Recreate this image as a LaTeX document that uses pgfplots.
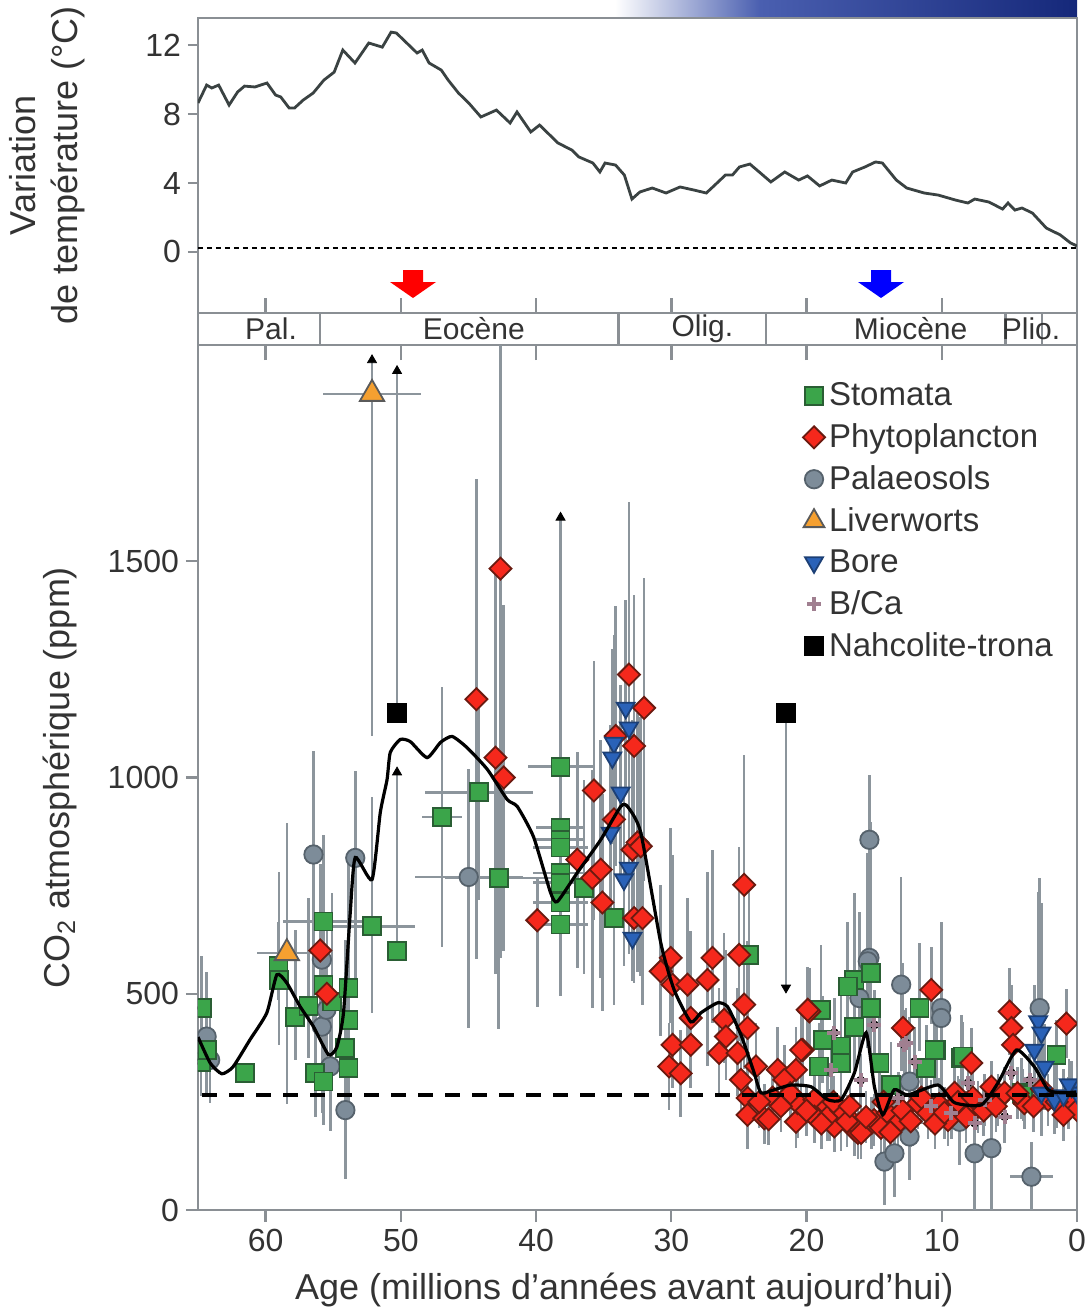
\documentclass[border=0pt]{standalone}
\usepackage{fontspec}
\setmainfont{Liberation Sans}
\usepackage{pgfplots}
\pgfplotsset{compat=1.18}
\usepackage{pgfplotstable}

\definecolor{axiscol}{HTML}{8A8F94}
\definecolor{textcol}{HTML}{333333}
\definecolor{errcol}{HTML}{8C959C}
\definecolor{stomfill}{HTML}{3BA54A}
\definecolor{stomedge}{HTML}{2A5E34}
\definecolor{phytfill}{HTML}{F5281C}
\definecolor{phytedge}{HTML}{6A1A10}
\definecolor{paleofill}{HTML}{7D8C99}
\definecolor{paleoedge}{HTML}{56626C}
\definecolor{livfill}{HTML}{F5A030}
\definecolor{livedge}{HTML}{5A5A5A}
\definecolor{borefill}{HTML}{2A62B8}
\definecolor{boreedge}{HTML}{1C3F75}
\definecolor{bcacol}{HTML}{A07F90}
\definecolor{tempcol}{HTML}{3A4242}
\definecolor{icemid}{HTML}{4A5FB0}
\definecolor{icedark}{HTML}{15287A}

% age (Ma), CO2 (ppm), x error, y error plus, y error minus
\pgfplotstableread{
a c xe ep em
64.73 467 0 120 100
64.78 343 0 80 80
64.36 370 0 150 100
61.52 316 0 0 0
59.05 565 0 100 80
59.00 532 0 250 150
57.81 447 0 200 100
56.83 471 0 250 120
55.72 667 3.0 200 150
55.72 521 0 300 200
55.10 482 0 250 150
53.87 513 0 300 100
53.87 440 0 200 150
54.10 374 0 250 100
53.87 328 0 150 100
56.33 316 0 150 100
55.72 297 0 100 100
52.13 656 3.2 300 200
50.28 598 0 415 0
46.95 909 1.5 300 300
44.24 966 4.0 200 250
42.76 768 4.0 300 350
38.19 1025 2.4 0 0
38.19 884 1.8 717 390
38.19 856 1.8 0 0
38.19 838 2.0 0 0
38.19 779 2.0 150 150
38.19 757 2.0 0 0
38.19 711 2.0 0 0
38.19 660 2.0 0 0
36.46 745 0 250 200
34.24 675 0 200 200
24.24 590 0 150 100
16.46 532 0.7 200 100
15.22 548 0 350 200
15.22 467 0 200 150
16.46 424 0 200 100
17.44 363 0 150 100
14.61 340 0 150 100
13.74 289 0 100 80
11.64 467 0 150 100
10.41 370 0 100 80
11.15 328 0 100 80
8.56 351 0 100 80
4.11 271 0 80 60
1.52 359 0 80 60
16.95 517 0 150 100
18.93 463 0 150 100
18.80 394 0 100 100
17.44 378 0 100 100
17.44 340 0 100 100
19.05 332 0 100 80
10.53 370 0 100 80
8.43 355 0 80 80
3.99 266 0 60 60
}\stom

\pgfplotstableread{
a c xe ep em
55.96 600 0 200 150
55.47 500 0 150 150
42.63 1483 0 520 900
44.41 1181 0 510 600
43.00 1046 0 450 500
42.39 1000 0 400 400
35.72 970 0 300 300
36.95 810 0 250 250
35.84 768 0 250 300
35.22 787 0 300 250
35.10 711 0 250 250
39.91 670 0 100 200
33.13 1238 0 400 350
32.01 1161 0 300 400
32.75 1073 0 350 350
34.11 1096 0 300 300
34.24 903 0 300 300
32.87 833 0 300 300
32.75 675 0 150 150
32.50 850 0 300 300
32.26 841 0 300 300
32.13 675 0 200 200
24.61 752 0 300 250
30.04 583 0 300 150
30.78 552 0 200 150
29.91 521 0 300 150
28.80 521 0 200 150
26.95 583 0 250 150
27.32 532 0 250 200
24.98 590 0 250 200
28.56 444 0 200 100
29.91 382 0 150 100
28.56 382 0 150 100
30.16 332 0 100 100
29.30 316 0 100 100
24.61 475 0 250 150
24.36 421 0 200 150
26.09 440 0 200 100
25.96 401 0 200 100
26.46 363 0 150 100
25.10 363 0 150 100
23.74 332 0 100 100
24.85 301 0 100 80
24.36 259 0 80 80
24.36 220 0 80 80
23.13 212 0 80 60
22.13 324 0 100 80
20.78 324 0 100 80
20.28 370 0 100 80
19.79 459 0 100 100
20.78 204 0 60 60
21.64 301 0 80 80
20.65 247 0 80 80
19.42 255 0 80 80
18.43 239 0 80 80
17.44 216 0 80 80
16.46 185 0 60 60
19.42 216 0 60 60
17.94 193 0 60 60
19.91 463 0 100 100
20.40 370 0 100 100
18.30 220 0 60 60
16.20 178 0 60 60
15.20 201 0 60 60
13.50 201 0 60 60
12.87 421 0 150 100
10.78 509 0 100 80
7.81 340 0 80 80
4.98 459 0 100 100
4.85 421 0 100 100
4.73 382 0 80 80
0.78 431 0 80 80
17.44 231 0 60 60
16.50 201 0 60 60
15.96 178 0 60 60
15.00 208 0 60 60
14.00 224 0 60 60
13.24 201 0 60 60
11.76 247 0 60 60
11.02 224 0 60 60
9.54 208 0 60 60
9.05 271 0 60 60
7.32 239 0 60 60
6.33 285 0 60 60
5.84 255 0 60 60
5.35 271 0 60 60
3.89 247 0 60 60
2.13 255 0 60 60
0.65 247 0 60 60
0.00 231 0 60 60
22.50 260 0 60 60
21.90 240 0 60 60
21.20 270 0 60 60
20.00 230 0 60 60
18.90 200 0 60 60
18.00 250 0 60 60
17.00 205 0 60 60
16.80 240 0 60 60
15.60 215 0 60 60
14.50 190 0 60 60
14.30 250 0 60 60
13.80 180 0 60 60
12.90 230 0 60 60
12.30 205 0 60 60
11.50 260 0 60 60
10.50 200 0 60 60
10.20 245 0 60 60
9.80 225 0 60 60
8.80 250 0 60 60
8.20 215 0 60 60
7.70 260 0 60 60
6.90 230 0 60 60
6.00 240 0 60 60
4.40 270 0 60 60
3.20 240 0 60 60
2.60 280 0 60 60
1.50 250 0 60 60
1.00 220 0 60 60
23.50 250 0 60 60
22.80 210 0 60 60
}\phyto

\pgfplotstableread{
a c xe ep em
56.46 822 0 240 400
53.37 814 0 200 300
64.36 401 0 150 100
64.10 347 0 100 100
55.84 579 0 200 150
55.84 424 0 200 200
55.22 332 0 150 150
55.50 463 0 150 150
54.10 231 0 200 160
44.98 770 4.0 250 350
15.35 856 0 150 300
15.35 583 0 250 200
16.09 490 0 200 150
13.00 521 0 250 200
10.04 467 0 200 200
10.04 444 0 200 200
12.38 297 0 150 150
14.24 112 0 100 100
13.50 131 0 100 100
12.38 170 0 100 100
7.57 131 0 150 130
6.33 143 0 150 143
3.37 77 1.6 80 77
2.76 467 0 300 200
8.68 204 0 100 100
15.47 575 0 250 200
}\paleo

\pgfplotstableread{
a c xe ep em
52.13 1887 3.6 78 792
58.43 594 2.2 300 350
}\liver

\pgfplotstableread{
a c xe ep em
33.37 1161 0 250 200
33.13 1115 0 250 200
34.24 1080 0 250 200
34.36 1046 0 250 200
33.74 965 0 250 200
34.48 872 0 250 200
33.13 791 0 200 200
33.50 764 0 200 200
32.87 629 0 150 100
2.87 436 0 300 200
2.63 410 0 300 200
3.15 370 0 150 150
2.40 331 0 100 100
2.63 271 0 100 100
1.67 255 0 80 80
0.41 285 0 60 60
0.00 271 0 60 60
1.00 265 0 60 60
0.60 290 0 60 60
}\bore

\pgfplotstableread{
a c xe ep em
14.98 428 0 80 80
12.76 382 0 80 80
12.00 343 0 80 80
17.94 410 0 80 80
18.20 324 0 80 80
12.63 386 0 80 80
9.30 224 0 60 60
7.57 201 0 60 60
5.35 216 0 60 60
6.83 255 0 60 60
8.06 294 0 60 60
4.85 317 0 60 60
16.00 300 0 60 60
13.20 260 0 60 60
10.80 240 0 60 60
3.50 300 0 60 60
}\bca

\pgfplotstableread{
a c xe ep em
50.28 1150 0 790 0
21.52 1150 0 0 636
}\nahc

\pgfplotsset{
  errpass/.style={only marks, mark=none, forget plot,
    error bars/.cd, x dir=both, x explicit, y dir=both, y explicit,
    error mark=none, error bar style={draw=errcol, line width=1.3pt}},
  /pgfplots/table/errtab/.style={x=a, y=c, x error=xe, y error plus=ep, y error minus=em},
  frame/.style={scale only axis, width=439.5pt, xmin=0, xmax=65, x dir=reverse,
    axis line style={axiscol, line width=1.2pt},
    tick style={axiscol, line width=1.2pt},
    tick label style={text=textcol, font=\fontsize{16}{16}\selectfont},
    label style={text=textcol, font=\fontsize{18}{21}\selectfont},
    /pgf/number format/assume math mode=true,
    /pgf/number format/1000 sep={}},
}

\begin{document}
\begin{tikzpicture}
\useasboundingbox (0,0) rectangle (543pt,-656pt);

% bandeau en degrade au-dessus du panneau de temperature
\shade[left color=white, right color=icemid] (307.5pt,0) rectangle (380pt,-9pt);
\shade[left color=icemid, right color=icedark] (380pt,0) rectangle (538.5pt,-9pt);

% ---------------- temperature ----------------
\begin{axis}[frame, at={(99pt,-9pt)}, anchor=north west, height=147.5pt,
    ymin=-3.54, ymax=13.57, xtick=\empty, ytick={0,4,8,12},
    ytick pos=left, tick align=outside, major tick length=5pt,
    ylabel={Variation\\de température (°C)},
    ylabel style={align=center, at={(axis description cs:-0.172,0.5)}, anchor=center}]
\addplot[black, line width=0.6pt, dash pattern=on 2.5pt off 2pt] coordinates {(65,0.23) (0,0.23)};
\addplot[tempcol, line width=1.4pt] table {
65.00 8.64
64.36 9.68
63.98 9.51
63.47 9.68
62.70 8.52
62.07 9.28
61.56 9.62
60.79 9.57
59.90 9.80
59.26 9.10
58.88 8.99
58.26 8.35
57.86 8.35
57.22 8.81
56.48 9.22
55.69 9.97
54.93 10.43
54.29 11.71
53.39 10.96
52.37 12.12
51.37 11.88
50.72 12.75
50.33 12.70
48.80 11.54
48.42 11.71
47.91 10.96
47.01 10.55
46.50 9.97
45.74 9.22
44.98 8.64
44.08 7.83
42.93 8.23
41.92 7.48
41.41 8.12
40.39 6.96
39.74 7.36
38.38 6.32
37.35 5.91
36.83 5.51
35.80 5.16
35.28 4.64
34.90 5.16
34.12 5.04
33.47 4.46
32.91 3.07
32.32 3.48
31.41 3.71
30.39 3.42
29.35 3.77
28.32 3.59
27.41 3.42
26.78 3.88
26.00 4.46
25.48 4.46
24.96 4.93
24.19 5.10
23.41 4.58
22.64 4.06
21.61 4.64
20.58 4.17
19.93 4.41
19.03 3.83
18.13 4.17
17.10 4.00
16.59 4.64
15.68 4.93
14.90 5.22
14.39 5.16
13.36 4.17
12.59 3.71
11.30 3.42
10.26 3.30
8.98 3.01
8.07 2.84
7.56 3.07
6.53 2.90
5.50 2.49
5.10 2.84
4.59 2.43
4.07 2.55
3.30 2.26
2.27 1.39
1.24 0.99
0.47 0.52
0.00 0.35
};
\end{axis}

% fleches
\fill[red] (201.5pt,-135pt) -- (211.5pt,-135pt) -- (211.5pt,-141pt) -- (218pt,-141pt)
  -- (206.5pt,-149pt) -- (195pt,-141pt) -- (201.5pt,-141pt) -- cycle;
\fill[blue] (435.5pt,-135pt) -- (445.5pt,-135pt) -- (445.5pt,-141pt) -- (452pt,-141pt)
  -- (440.5pt,-149pt) -- (429pt,-141pt) -- (435.5pt,-141pt) -- cycle;

% ---------------- bandeau des epoques ----------------
\begin{axis}[frame, at={(99pt,-156.5pt)}, anchor=north west, height=16pt,
    ymin=0, ymax=1, xtick={10,20,...,60}, xticklabels={}, ytick=\empty,
    xtick pos=both, tick align=outside, major tick length=7.5pt, clip=false]
\draw[axiscol, line width=1.2pt] (axis cs:56,0) -- (axis cs:56,1);
\draw[axiscol, line width=1.2pt] (axis cs:33.9,0) -- (axis cs:33.9,1);
\draw[axiscol, line width=1.2pt] (axis cs:23,0) -- (axis cs:23,1);
\draw[axiscol, line width=1.2pt] (axis cs:5.3,0) -- (axis cs:5.3,1);
\draw[axiscol, line width=1.2pt] (axis cs:2.6,0) -- (axis cs:2.6,1);
\node[text=textcol, font=\fontsize{15}{15}\selectfont] at (axis cs:59.6,0.5) {Pal.};
\node[text=textcol, font=\fontsize{15}{15}\selectfont] at (axis cs:44.6,0.5) {Eocène};
\node[text=textcol, font=\fontsize{15}{15}\selectfont] at (axis cs:27.7,0.5) {Olig.};
\node[text=textcol, font=\fontsize{15}{15}\selectfont] at (axis cs:12.3,0.5) {Miocène};
\node[text=textcol, font=\fontsize{15}{15}\selectfont] at (axis cs:3.4,0.5) {Plio.};
\end{axis}

% ---------------- CO2 ----------------
\begin{axis}[frame, at={(99pt,-172.5pt)}, anchor=north west, height=432.5pt,
    ymin=0, ymax=2000, xtick={0,10,...,60}, ytick={0,500,1000,1500},
    xtick pos=bottom, ytick pos=left, tick align=outside, major tick length=6pt,
    clip marker paths=true,
    xlabel={Age (millions d’années avant aujourd’hui)},
    xlabel style={at={(axis description cs:0.485,-0.093)}, anchor=center},
    ylabel={CO\textsubscript{2} atmosphérique (ppm)},
    ylabel style={at={(axis description cs:-0.157,0.5)}, anchor=center},
    legend cell align=left,
    legend style={at={(axis description cs:0.681,0.966)}, anchor=north west,
      draw=none, fill=none, text=textcol, font=\fontsize{16.5}{18}\selectfont,
      row sep=3.5pt}]

% barres d'erreur d'abord
\addplot[errpass] table[errtab] {\stom};
\addplot[errpass] table[errtab] {\phyto};
\addplot[errpass] table[errtab] {\paleo};
\addplot[errpass] table[errtab] {\liver};
\addplot[errpass] table[errtab] {\bore};
\addplot[errpass] table[errtab] {\bca};
\addplot[errpass] table[errtab] {\nahc};

% extremites fleches des bornes
\addplot[only marks, forget plot, mark=triangle*, mark size=2.6pt, black]
  coordinates {(52.13,1965) (50.28,1940) (50.28,1012) (38.19,1601)};
\addplot[only marks, forget plot, mark=triangle*, mark size=2.6pt, black,
  mark options={rotate=180}] coordinates {(21.52,514)};

% symboles
\addplot[only marks, forget plot, mark=*, mark size=4.6pt,
  mark options={fill=paleofill, draw=paleoedge, line width=0.9pt}] table[x=a, y=c] {\paleo};
\addplot[only marks, forget plot, mark=square*, mark size=4.5pt,
  mark options={fill=stomfill, draw=stomedge, line width=0.9pt}] table[x=a, y=c] {\stom};
\addplot[only marks, forget plot, mark=triangle*, mark size=7pt,
  mark options={fill=livfill, draw=livedge, line width=0.9pt}] table[x=a, y=c] {\liver};
\addplot[only marks, forget plot, mark=square*, mark size=3.9pt,
  mark options={rotate=45, fill=phytfill, draw=phytedge, line width=0.9pt}] table[x=a, y=c] {\phyto};
\addplot[only marks, forget plot, mark=triangle*, mark size=5.2pt,
  mark options={rotate=180, fill=borefill, draw=boreedge, line width=0.9pt}] table[x=a, y=c] {\bore};
\addplot[only marks, forget plot, mark=+, mark size=3.5pt,
  mark options={draw=bcacol, line width=2pt}] table[x=a, y=c] {\bca};
\addplot[only marks, forget plot, mark=square*, mark size=4.8pt, black] table[x=a, y=c] {\nahc};

% courbe lissee et niveau preindustriel
\addplot[forget plot, black, line width=1.6pt, smooth, tension=0.35] table {
65.00 400
64.10 340
63.24 315
62.41 331
61.15 394
59.91 456
59.17 544
58.43 525
57.44 470
56.46 424
55.35 359
54.73 377
54.24 456
53.74 688
53.37 815
52.13 764
51.52 919
51.02 995
50.78 1058
50.04 1088
49.30 1083
48.06 1046
47.07 1081
46.21 1095
45.10 1069
43.61 1019
42.13 949
41.39 933
40.19 863
38.93 734
38.43 713
36.95 780
35.22 856
33.74 933
33.24 933
32.26 873
30.78 618
29.79 509
28.56 435
27.81 456
26.58 479
25.84 470
24.85 405
23.87 317
23.37 271
22.39 278
21.15 289
19.67 285
18.43 255
17.44 255
16.46 317
15.59 410
14.98 285
14.36 220
13.52 278
12.50 266
10.28 289
9.05 248
7.07 243
5.84 294
4.48 370
3.15 331
2.13 278
1.15 271
0.04 273
};
\addplot[forget plot, black, line width=2pt, dash pattern=on 7.5pt off 6pt]
  coordinates {(64.7,265) (0,265)};

% legende
\addlegendimage{only marks, mark=square*, mark size=4.5pt, mark options={fill=stomfill, draw=stomedge, line width=0.9pt}}
\addlegendentry{Stomata}
\addlegendimage{only marks, mark=square*, mark size=3.9pt, mark options={rotate=45, fill=phytfill, draw=phytedge, line width=0.9pt}}
\addlegendentry{Phytoplancton}
\addlegendimage{only marks, mark=*, mark size=4.6pt, mark options={fill=paleofill, draw=paleoedge, line width=0.9pt}}
\addlegendentry{Palaeosols}
\addlegendimage{only marks, mark=triangle*, mark size=6pt, mark options={fill=livfill, draw=livedge, line width=0.9pt}}
\addlegendentry{Liverworts}
\addlegendimage{only marks, mark=triangle*, mark size=5.2pt, mark options={rotate=180, fill=borefill, draw=boreedge, line width=0.9pt}}
\addlegendentry{Bore}
\addlegendimage{only marks, mark=+, mark size=3.5pt, mark options={draw=bcacol, line width=2pt}}
\addlegendentry{B/Ca}
\addlegendimage{only marks, mark=square*, mark size=4.8pt, black}
\addlegendentry{Nahcolite-trona}
\end{axis}
\end{tikzpicture}
\end{document}
